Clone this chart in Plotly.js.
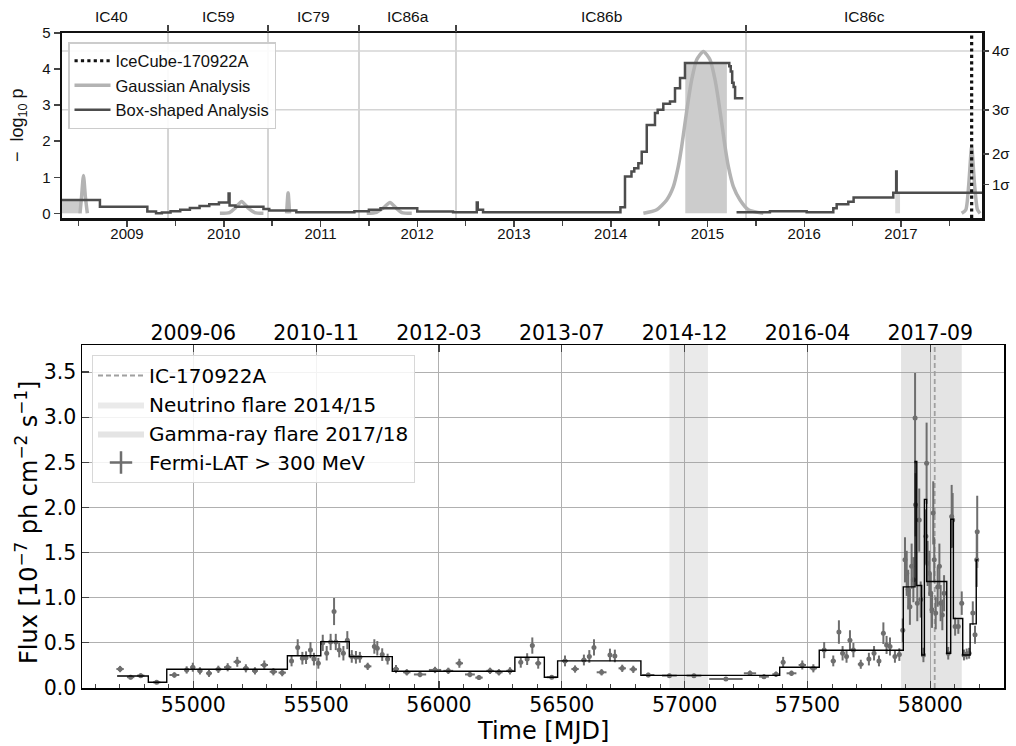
<!DOCTYPE html>
<html>
<head>
<meta charset="utf-8">
<script src="https://cdn.plot.ly/plotly-3.0.1.min.js"></script>
<style>html,body{margin:0;padding:0;background:#fff;}#chart{width:1016px;height:746px;}</style>
</head>
<body>
<div id="chart"></div>
<script>
// ---------------- TOP PANEL DATA (time in decimal years) ----------------
const yearTicks = [2009, 2010, 2011, 2012, 2013, 2014, 2015, 2016, 2017];
const seasonNames = ['IC40', 'IC59', 'IC79', 'IC86a', 'IC86b', 'IC86c'];
const seasonBounds = [2008.26, 2009.424, 2010.457, 2011.398, 2012.40, 2015.398, 2017.84];
const sigmaVals = [0.80, 1.64, 2.87, 4.50];
const sigmaLabels = ['1σ', '2σ', '3σ', '4σ'];
const icecubeEventYear = 2017.73;

// Box-shaped analysis (step curve), two segments
const boxYears1 = [2008.328, 2008.72, 2009.21, 2009.30, 2009.36, 2009.45, 2009.55, 2009.65, 2009.75, 2009.85, 2009.95,
  2010.05, 2010.06, 2010.12, 2010.41, 2010.47, 2010.75, 2011.35, 2011.50, 2011.62, 2012.0, 2012.37, 2012.615, 2012.625,
  2012.68, 2014.10, 2014.147, 2014.214, 2014.243, 2014.285, 2014.32, 2014.372, 2014.457, 2014.485, 2014.543, 2014.612,
  2014.664, 2014.716, 2014.767, 2015.225, 2015.24, 2015.255, 2015.27, 2015.285, 2015.37];
const boxVals1 = [0.37, 0.18, 0.05, 0.0, 0.02, 0.06, 0.10, 0.15, 0.20, 0.25, 0.30,
  0.55, 0.22, 0.18, 0.12, 0.08, 0.03, 0.06, 0.10, 0.14, 0.05, 0.03, 0.30, 0.10,
  0.03, 0.17, 1.02, 1.16, 1.25, 1.39, 1.71, 2.45, 2.78, 2.87, 3.04, 3.10,
  3.47, 3.75, 4.17, 4.08, 3.93, 3.62, 3.50, 3.19, 3.19];
const boxYears2 = [2015.30, 2015.645, 2016.025, 2016.30, 2016.335, 2016.455, 2016.51, 2016.92, 2016.95, 2016.955, 2017.837];
const boxVals2 = [0.03, 0.06, 0.03, 0.14, 0.25, 0.32, 0.44, 0.57, 1.16, 0.57, 0.57];

// Gaussian analysis, visible segments
const gaussYears = [
  [2008.514, 2008.53, 2008.55, 2008.57, 2008.59],
  [2009.96, 2010.06, 2010.12, 2010.185, 2010.25, 2010.32, 2010.41],
  [2010.65, 2010.665, 2010.68],
  [2011.477, 2011.58, 2011.65, 2011.718, 2011.78, 2011.84, 2011.943],
  [2014.337, 2014.475, 2014.578, 2014.647, 2014.698, 2014.733, 2014.767, 2014.802, 2014.836, 2014.888, 2014.957,
   2015.026, 2015.078, 2015.112, 2015.147, 2015.181, 2015.215, 2015.267, 2015.336, 2015.422, 2015.577],
  [2017.627, 2017.67, 2017.70, 2017.73, 2017.76, 2017.79, 2017.817]
];
const gaussVals = [
  [0, 0.45, 1.05, 0.45, 0],
  [0, 0.02, 0.15, 0.33, 0.15, 0.02, 0],
  [0, 0.57, 0],
  [0, 0.03, 0.15, 0.30, 0.15, 0.02, 0],
  [0, 0.1, 0.37, 0.74, 1.3, 1.85, 2.5, 3.15, 3.7, 4.26, 4.49,
   4.26, 3.7, 3.15, 2.5, 1.85, 1.3, 0.74, 0.37, 0.1, 0],
  [0, 0.1, 0.8, 1.84, 0.8, 0.1, 0]
];

// Best-fit box windows (shaded)
const windowStart = [2008.328, 2014.77, 2016.94];
const windowEnd = [2008.514, 2015.20, 2016.99];
const windowHeight = [0.37, 4.17, 0.57];
const windowColor = ['#cccccc', '#cccccc', '#d9d9d9'];

// ---------------- BOTTOM PANEL DATA (MJD) ----------------
const topMjdTicks = [55000, 55500, 56000, 56500, 57000, 57500, 58000];
const topDateLabels = ['2009-06', '2010-11', '2012-03', '2013-07', '2014-12', '2016-04', '2017-09'];
const icEventMjd = 58018;
const neutrinoFlare = [56938, 57095];
const gammaFlare = [57881, 58128];

const fermiMjd = [54702, 54745, 54786, 54851, 54923, 54973, 54998, 55027, 55064, 55102, 55140, 55179, 55214, 55251,
  55289, 55326, 55362, 55400, 55425, 55444, 55459, 55477, 55491, 55509, 55527, 55543, 55559, 55573, 55580, 55594,
  55611, 55627, 55645, 55662, 55678, 55710, 55737, 55749, 55769, 55791, 55825, 55869, 55923, 55984, 56038, 56083,
  56126, 56163, 56208, 56244, 56289, 56333, 56359, 56380, 56404, 56459, 56513, 56554, 56590, 56612, 56631, 56662,
  56696, 56716, 56746, 56791, 56852, 56938, 57038, 57168, 57266, 57323, 57372, 57401, 57435, 57479, 57524, 57568,
  57605, 57628, 57643, 57659, 57673, 57687, 57717, 57750, 57771, 57791, 57809, 57822, 57836, 57856, 57874, 57888,
  57897, 57904, 57910, 57917, 57924, 57931, 57938, 57940, 57947, 57955, 57961, 57972, 57982, 57985, 57989, 57996,
  58002, 58007, 58012, 58016, 58022, 58030, 58037, 58042, 58049, 58056, 58073, 58087, 58091, 58101, 58114, 58128,
  58137, 58148, 58158, 58173, 58182, 58189, 58191];
const fermiFlux = [0.21, 0.12, 0.137, 0.063, 0.144, 0.20, 0.23, 0.19, 0.163, 0.207, 0.23, 0.29, 0.218, 0.19,
  0.255, 0.18, 0.17, 0.30, 0.45, 0.33, 0.336, 0.42, 0.32, 0.274, 0.50, 0.385, 0.51, 0.847, 0.51, 0.42,
  0.385, 0.53, 0.35, 0.34, 0.34, 0.24, 0.46, 0.44, 0.37, 0.32, 0.21, 0.174, 0.15, 0.20, 0.19, 0.274,
  0.15, 0.115, 0.19, 0.174, 0.19, 0.285, 0.32, 0.47, 0.274, 0.119, 0.30, 0.21, 0.31, 0.35, 0.45, 0.174,
  0.366, 0.355, 0.218, 0.207, 0.144, 0.137, 0.137, 0.10, 0.163, 0.126, 0.152, 0.285, 0.163, 0.255, 0.218, 0.42,
  0.30, 0.62, 0.385, 0.35, 0.53, 0.42, 0.263, 0.32, 0.385, 0.30, 0.607, 0.477, 0.46, 0.35, 0.37, 0.64,
  1.42, 1.27, 1.09, 0.90, 1.35, 1.20, 2.99, 2.03, 0.94, 1.86, 0.98, 0.366, 1.68, 2.49, 1.38, 1.27,
  1.05, 0.866, 1.94, 1.42, 0.83, 1.12, 1.35, 0.94, 0.81, 1.05, 0.385, 1.90, 1.86, 0.68, 0.68, 0.94,
  0.366, 0.377, 0.385, 0.83, 0.59, 1.42, 1.73];
const fermiFluxErr = [0.035, 0.025, 0.025, 0.02, 0.03, 0.04, 0.05, 0.04, 0.04, 0.04, 0.045, 0.055, 0.045, 0.04,
  0.05, 0.04, 0.04, 0.06, 0.09, 0.07, 0.07, 0.09, 0.07, 0.06, 0.09, 0.08, 0.09, 0.15, 0.09, 0.08,
  0.08, 0.1, 0.07, 0.07, 0.06, 0.04, 0.08, 0.08, 0.07, 0.06, 0.045, 0.035, 0.03, 0.035, 0.035, 0.05,
  0.03, 0.025, 0.035, 0.035, 0.04, 0.06, 0.065, 0.09, 0.06, 0.02, 0.06, 0.04, 0.06, 0.07, 0.09, 0.035,
  0.07, 0.07, 0.04, 0.04, 0.025, 0.02, 0.02, 0.02, 0.03, 0.025, 0.03, 0.06, 0.03, 0.05, 0.045, 0.09,
  0.06, 0.13, 0.08, 0.07, 0.11, 0.08, 0.05, 0.07, 0.08, 0.06, 0.12, 0.1, 0.1, 0.07, 0.07, 0.13,
  0.25, 0.25, 0.22, 0.2, 0.25, 0.25, 0.5, 0.35, 0.2, 0.35, 0.2, 0.08, 0.3, 0.45, 0.25, 0.25,
  0.22, 0.2, 0.35, 0.25, 0.18, 0.22, 0.25, 0.2, 0.17, 0.2, 0.07, 0.35, 0.3, 0.1, 0.08, 0.13,
  0.06, 0.06, 0.06, 0.13, 0.1, 0.3, 0.4];
const fermiMjdErr = [15, 15, 15, 15, 20, 10, 10, 10, 12, 12, 15, 15, 12, 12,
  15, 15, 15, 7, 7, 7, 7, 7, 7, 7, 7, 7, 7, 7, 7, 7,
  7, 7, 7, 7, 7, 15, 7, 7, 7, 7, 12, 15, 25, 25, 20, 15,
  20, 15, 15, 15, 15, 8, 8, 8, 12, 20, 12, 15, 10, 8, 8, 20,
  8, 8, 15, 15, 25, 30, 30, 68, 25, 20, 15, 8, 20, 15, 15, 7,
  10, 5, 5, 5, 5, 5, 12, 7, 7, 7, 5, 5, 5, 7, 7, 3,
  3, 3, 3, 3, 3, 3, 3, 3, 3, 3, 3, 3, 3, 3, 3, 3,
  3, 3, 3, 3, 3, 3, 3, 3, 3, 3, 3, 3, 3, 3, 3, 3,
  3, 3, 3, 3, 3, 3, 3];

// Bayesian blocks
const blockEdges = [54690, 54817, 54892, 55383, 55519, 55635, 55810, 56309, 56429, 56483, 56822, 57387, 57548,
  57890, 57938, 57945, 57965, 57976, 57985, 58067, 58083, 58094, 58132, 58162, 58187, 58194];
const blockFlux = [0.133, 0.063, 0.207, 0.358, 0.514, 0.348, 0.185, 0.34, 0.119, 0.30, 0.14, 0.23, 0.418,
  1.12, 2.51, 1.135, 0.366, 2.09, 1.18, 0.385, 1.87, 0.77, 0.366, 0.71, 1.42];

// ---------------- BUILD ----------------
const topXRange = [2008.328, 2017.837];
const topYRange = [-0.13, 5.0];
const botXRange = [54547, 58300];
const botYRange = [0, 3.8];
const topFont = 'Liberation Sans, Arial, sans-serif';
const botFont = 'DejaVu Sans, sans-serif';

const traces = [];

const gx = [], gy = [];
gaussYears.forEach((seg, i) => { seg.forEach((v, j) => { gx.push(v); gy.push(gaussVals[i][j]); }); gx.push(null); gy.push(null); });
traces.push({x: gx, y: gy, mode: 'lines', name: 'Gaussian Analysis', line: {color: '#b3b3b3', width: 3.5, shape: 'spline', smoothing: 0.6},
  xaxis: 'x', yaxis: 'y', legend: 'legend', legendrank: 2, connectgaps: false, hoverinfo: 'skip'});

const bx = boxYears1.concat([null], boxYears2);
const by = boxVals1.concat([null], boxVals2);
traces.push({x: bx, y: by, mode: 'lines', name: 'Box-shaped Analysis', line: {color: '#4d4d4d', width: 2.5, shape: 'hv'},
  xaxis: 'x', yaxis: 'y', legend: 'legend', legendrank: 3, connectgaps: false, hoverinfo: 'skip'});

traces.push({x: [icecubeEventYear, icecubeEventYear], y: topYRange, mode: 'lines', name: 'IceCube-170922A',
  line: {color: '#111111', width: 3.2, dash: 'dot'}, xaxis: 'x', yaxis: 'y', legend: 'legend', legendrank: 1, hoverinfo: 'skip'});

traces.push({x: [null], y: [null], xaxis: 'x4', yaxis: 'y', showlegend: false, hoverinfo: 'skip'});
traces.push({x: [null], y: [null], xaxis: 'x', yaxis: 'y3', showlegend: false, hoverinfo: 'skip'});
traces.push({x: [null], y: [null], xaxis: 'x3', yaxis: 'y2', showlegend: false, hoverinfo: 'skip'});

function bandTrace(win, name, color, rank) {
  return {x: [win[0], win[0], win[1], win[1], win[0]], y: [botYRange[0], botYRange[1], botYRange[1], botYRange[0], botYRange[0]],
    mode: 'lines', fill: 'toself', fillcolor: color, line: {width: 0, color: color}, name: name,
    xaxis: 'x2', yaxis: 'y2', legend: 'legend2', legendrank: rank, hoverinfo: 'skip'};
}
traces.push(bandTrace(neutrinoFlare, 'Neutrino flare 2014/15', 'rgba(150,150,150,0.2)', 2));
traces.push(bandTrace(gammaFlare, 'Gamma-ray flare 2017/18', 'rgba(150,150,150,0.26)', 3));

traces.push({x: [icEventMjd, icEventMjd], y: botYRange, mode: 'lines', name: 'IC-170922A',
  line: {color: '#a0a0a0', width: 1.8, dash: '5px,3px'}, xaxis: 'x2', yaxis: 'y2', legend: 'legend2', legendrank: 1, hoverinfo: 'skip'});

traces.push({x: fermiMjd, y: fermiFlux, mode: 'markers', showlegend: false,
  marker: {color: '#6e6e6e', size: 5},
  error_y: {type: 'data', array: fermiFluxErr, color: '#6e6e6e', thickness: 2, width: 0},
  error_x: {type: 'data', array: fermiMjdErr, color: '#6e6e6e', thickness: 2, width: 0},
  xaxis: 'x2', yaxis: 'y2', hoverinfo: 'skip'});

traces.push({x: blockEdges, y: blockFlux.concat([blockFlux[blockFlux.length - 1]]), mode: 'lines', showlegend: false,
  line: {color: '#000000', width: 1.4, shape: 'hv'}, xaxis: 'x2', yaxis: 'y2', hoverinfo: 'skip'});

traces.push({x: [null], y: [null], mode: 'markers', name: 'Fermi-LAT > 300 MeV',
  marker: {symbol: 'cross-thin', size: 16, color: '#6e6e6e', line: {width: 2.5, color: '#6e6e6e'}},
  xaxis: 'x2', yaxis: 'y2', legend: 'legend2', legendrank: 4, hoverinfo: 'skip'});

const shapes = [];
seasonBounds.slice(1, -1).forEach(b => shapes.push({type: 'line', xref: 'x', yref: 'y domain', x0: b, x1: b, y0: 0, y1: 1,
  line: {color: '#d4d4d4', width: 2}, layer: 'below'}));
sigmaVals.filter(v => v > 2.5).forEach(v => shapes.push({type: 'line', xref: 'x domain', yref: 'y', x0: 0, x1: 1, y0: v, y1: v,
  line: {color: '#d4d4d4', width: 1.5}, layer: 'below'}));
windowStart.forEach((s, i) => shapes.push({type: 'rect', xref: 'x', yref: 'y', x0: s, x1: windowEnd[i], y0: 0, y1: windowHeight[i],
  fillcolor: windowColor[i], line: {width: 0}, layer: 'below'}));

const annotations = [];
seasonNames.forEach((n, i) => annotations.push({text: n, xref: 'x', yref: 'paper', x: (seasonBounds[i] + seasonBounds[i + 1]) / 2,
  y: 1 - 16 / 746, showarrow: false, font: {family: topFont, size: 15.5, color: '#111'}, xanchor: 'center', yanchor: 'middle'}));
annotations.push({text: '−  log<sub>10</sub> p', xref: 'paper', yref: 'paper', x: 18 / 1016, y: 1 - 125 / 746, textangle: -90,
  showarrow: false, font: {family: topFont, size: 18, color: '#111'}, xanchor: 'center', yanchor: 'middle'});
annotations.push({text: 'Flux [10<sup>−7</sup> ph cm<sup>−2</sup> s<sup>−1</sup>]', xref: 'paper', yref: 'paper', x: 27 / 1016, y: 1 - 523 / 746,
  textangle: -90, showarrow: false, font: {family: botFont, size: 24, color: '#000'}, xanchor: 'center', yanchor: 'middle'});
annotations.push({text: 'Time [MJD]', xref: 'paper', yref: 'paper', x: 543 / 1016, y: 1 - 731 / 746,
  showarrow: false, font: {family: botFont, size: 24, color: '#000'}, xanchor: 'center', yanchor: 'middle'});

const layout = {
  width: 1016, height: 746,
  margin: {l: 0, r: 0, t: 0, b: 0},
  paper_bgcolor: '#ffffff', plot_bgcolor: '#ffffff',
  font: {family: topFont, color: '#111'},
  showlegend: true,
  xaxis: {domain: [62 / 1016, 982 / 1016], anchor: 'y', range: topXRange, tickvals: yearTicks, ticks: 'outside', ticklen: 6, tickwidth: 1.5,
    minor: {dtick: 0.5, tick0: 2008.5, ticks: 'outside', ticklen: 5, tickwidth: 1.3, showgrid: false},
    showgrid: false, zeroline: false, showline: true, linewidth: 2.5, linecolor: '#111', mirror: true, ticklabelstandoff: -6,
    tickfont: {family: topFont, size: 15}},
  yaxis: {domain: [1 - 218 / 746, 1 - 33 / 746], anchor: 'x', range: topYRange, tick0: 0, dtick: 1, ticks: 'outside', ticklen: 6, tickwidth: 1.5,
    showgrid: false, zeroline: false, showline: true, linewidth: 2.5, linecolor: '#111', mirror: true,
    tickfont: {family: topFont, size: 15}},
  yaxis3: {overlaying: 'y', side: 'right', anchor: 'x', range: topYRange, tickvals: sigmaVals, ticktext: sigmaLabels,
    ticks: 'outside', ticklen: 6, tickwidth: 1.5, showgrid: false, zeroline: false, showline: false,
    tickfont: {family: topFont, size: 15}},
  xaxis4: {overlaying: 'x', side: 'top', anchor: 'y', range: topXRange, tickvals: seasonBounds.slice(1, -1), ticks: 'outside', ticklen: 7,
    tickwidth: 2, showticklabels: false, showgrid: false, zeroline: false, showline: false},
  xaxis2: {domain: [82 / 1016, 1004 / 1016], anchor: 'y2', range: botXRange, tick0: 55000, dtick: 500, tickformat: 'd', ticks: 'inside', ticklen: 7, tickwidth: 1.2,
    minor: {dtick: 100, tick0: 55000, ticks: 'inside', ticklen: 4, tickwidth: 1, showgrid: false},
    showgrid: true, gridcolor: '#b0b0b0', gridwidth: 1, zeroline: false, showline: true, linecolor: '#000', linewidth: 1.5, mirror: true,
    ticklabelstandoff: -2, tickfont: {family: botFont, size: 20.5, color: '#000'}},
  yaxis2: {domain: [1 - 688 / 746, 1 - 345 / 746], anchor: 'x2', range: botYRange, tick0: 0, dtick: 0.5, tickformat: '.1f',
    ticks: 'inside', ticklen: 7, tickwidth: 1.2, showgrid: true, gridcolor: '#b0b0b0', gridwidth: 1, zeroline: false,
    showline: true, linecolor: '#000', linewidth: 1.5, mirror: true,
    tickfont: {family: botFont, size: 20.5, color: '#000'}},
  xaxis3: {overlaying: 'x2', side: 'top', anchor: 'y2', range: botXRange, tickvals: topMjdTicks, ticktext: topDateLabels,
    ticks: 'inside', ticklen: 7, tickwidth: 1.2, showgrid: false, zeroline: false, showline: false,
    tickfont: {family: botFont, size: 20.5, color: '#000'}},
  legend: {x: 68 / 1016, y: 1 - 42 / 746, xanchor: 'left', yanchor: 'top', bgcolor: 'rgba(255,255,255,0.9)', bordercolor: '#cccccc',
    borderwidth: 1.5, font: {family: topFont, size: 16.5, color: '#111'}, tracegroupgap: 0, itemwidth: 36},
  legend2: {x: 92 / 1016, y: 1 - 355 / 746, xanchor: 'left', yanchor: 'top', bgcolor: 'rgba(255,255,255,0.85)', bordercolor: '#d8d8d8',
    borderwidth: 1, font: {family: botFont, size: 20, color: '#000'}, tracegroupgap: 0, itemwidth: 46},
  shapes: shapes,
  annotations: annotations
};

Plotly.newPlot('chart', traces, layout, {staticPlot: true, displayModeBar: false});
</script>
</body>
</html>
